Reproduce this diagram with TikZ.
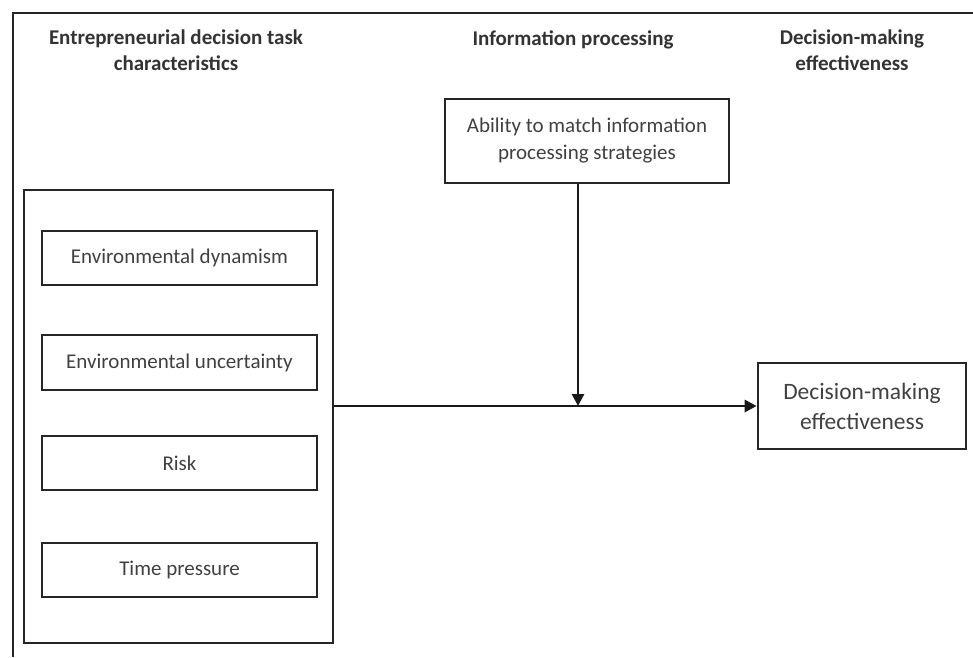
\documentclass[tikz,border=0pt]{standalone}
\usepackage{fontspec}
\setmainfont{Carlito}
\usetikzlibrary{arrows.meta}
\begin{document}
\begin{tikzpicture}[x=1pt,y=-1pt,
  box/.style={draw=black!85,line width=2.6pt,inner sep=0pt,text=black!75,font=\fontsize{21}{27}\selectfont,align=center},
  head/.style={font=\bfseries\fontsize{21}{26}\selectfont,text=black!80,align=center},
  conn/.style={line width=2.8pt,draw=black!90,-{Triangle[length=12pt,width=12pt]}}]
\useasboundingbox (0,0) rectangle (973,657);
% outer frame (top and left only)
\coordinate (fl) at (13,657);
\coordinate (ftl) at (13,13);
\coordinate (fr) at (973,13);
\draw[line width=2.8pt,black!85] (fl) -- (ftl) -- (fr);
% headers
\node[head] (h1) at (176,50) {Entrepreneurial decision task\\characteristics};
\node[head] (h2) at (573,40) {Information processing};
\node[head] (h3) at (852,50) {Decision-making\\effectiveness};
% big left box
\node[box,minimum width=309pt,minimum height=453pt] (big) at (178.5,416.5) {};
\node[box,minimum width=275pt,minimum height=54pt] (b1) at (179.5,258) {Environmental dynamism};
\node[box,minimum width=275pt,minimum height=55pt] (b2) at (179.5,362.5) {Environmental uncertainty};
\node[box,minimum width=275pt,minimum height=54pt] (b3) at (179.5,463) {Risk};
\node[box,minimum width=275pt,minimum height=54pt] (b4) at (179.5,570) {Time pressure};
% ability box
\node[box,minimum width=284pt,minimum height=84pt] (ab) at (587,141) {Ability to match information\\processing strategies};
% outcome box
\node[box,minimum width=208pt,minimum height=86pt,font=\fontsize{23.5}{30}\selectfont] (dm) at (862,406) {Decision-making\\effectiveness};
% connectors
\coordinate (mid) at (578,406);
\draw[conn] (big.east |- dm.west) -- (dm.west);
\draw[conn] (ab.south -| mid) -- (mid);
\end{tikzpicture}
\end{document}
